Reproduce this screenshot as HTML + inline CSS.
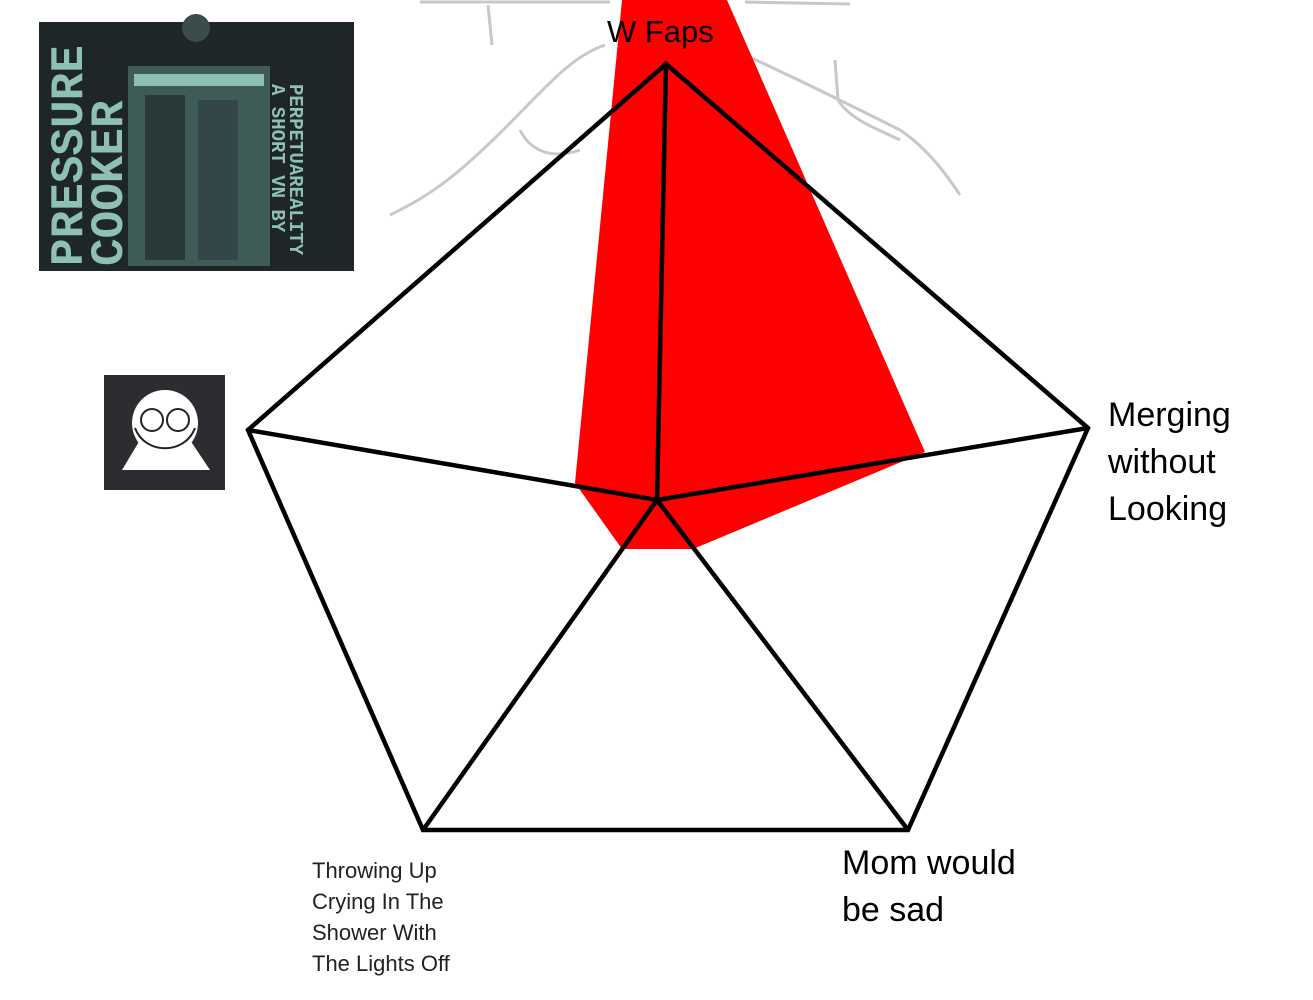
<!DOCTYPE html>
<html><head><meta charset="utf-8"><style>
html,body{margin:0;padding:0;background:#fff;}
body{width:1313px;height:1000px;position:relative;overflow:hidden;font-family:"Liberation Sans","DejaVu Sans",sans-serif;}
.t{position:absolute;color:#000;white-space:nowrap;}
</style></head><body>
<svg width="1313" height="1000" style="position:absolute;left:0;top:0">
  <!-- faint background sketch -->
  <g fill="none" stroke="#bbb" stroke-width="3" opacity="0.8">
    <path d="M420,2 L610,2"/>
    <path d="M745,2 L850,4"/>
    <path d="M488,5 L492,45"/>
    <path d="M605,45 C560,60 530,110 460,170 C430,195 410,205 390,215"/>
    <path d="M520,130 C530,150 550,160 580,150"/>
    <path d="M745,55 C800,80 860,110 900,130 C930,150 950,180 960,195"/>
    <path d="M835,60 L838,100 C850,120 880,130 900,140"/>
  </g>
  <polygon points="622,0 727,0 925,452 693,549 622,549 575,483" fill="#ff0000"/>
  <g fill="none" stroke="#000" stroke-width="4.5" stroke-linejoin="miter">
    <polygon points="666,64 1088,428 908,830 423,830 248,430"/>
    <line x1="657" y1="500" x2="666" y2="64"/>
    <line x1="657" y1="500" x2="1088" y2="428"/>
    <line x1="657" y1="500" x2="908" y2="830"/>
    <line x1="657" y1="500" x2="423" y2="830"/>
    <line x1="657" y1="500" x2="248" y2="430"/>
  </g>
  <!-- top-left poster -->
  <rect x="39" y="22" width="315" height="249" fill="#1e2627"/>
  <rect x="128" y="66" width="142" height="200" fill="#3f5b58"/>
  <rect x="134" y="74" width="130" height="12" fill="#8fc0b4"/>
  <rect x="145" y="95" width="40" height="165" fill="#2a3a38"/>
  <rect x="198" y="100" width="40" height="160" fill="#33474a"/>
  <circle cx="196" cy="28" r="14" fill="#3a4c4c"/>
  <text transform="translate(82,266) rotate(-90)" font-family="Liberation Mono" font-weight="bold" font-size="46" fill="#8fc0b4">PRESSURE</text>
  <text transform="translate(122,266) rotate(-90)" font-family="Liberation Mono" font-weight="bold" font-size="46" fill="#8fc0b4">COOKER</text>
  <text transform="translate(272,84) rotate(90)" font-family="Liberation Mono" font-weight="bold" font-size="19" fill="#8fc0b4">A SHORT VN BY</text>
  <text transform="translate(290,84) rotate(90)" font-family="Liberation Mono" font-weight="bold" font-size="19" fill="#8fc0b4">PERPETUAREALITY</text>
  <!-- smiley box -->
  <rect x="104" y="375" width="121" height="115" fill="#2b2d31"/>
  <path d="M122,470 L140,440 L190,440 L210,470 Z" fill="#fff"/>
  <circle cx="165" cy="423" r="33" fill="#fff"/>
  <g fill="none" stroke="#222" stroke-width="2">
    <circle cx="152" cy="420" r="11"/><circle cx="178" cy="420" r="11"/>
    <path d="M135,428 C145,455 185,455 195,428"/>
  </g>
</svg>
<div class="t" style="left:607px;top:14px;font-size:31px;">W Faps</div>
<div class="t" style="left:1108px;top:392px;font-size:34px;line-height:47px;">Merging<br>without<br>Looking</div>
<div class="t" style="left:842px;top:840px;font-size:34px;line-height:47px;">Mom would<br>be sad</div>
<div class="t" style="left:312px;top:855px;font-size:22px;line-height:31px;color:#222;">Throwing Up<br>Crying In The<br>Shower With<br>The Lights Off</div>
</body></html>
